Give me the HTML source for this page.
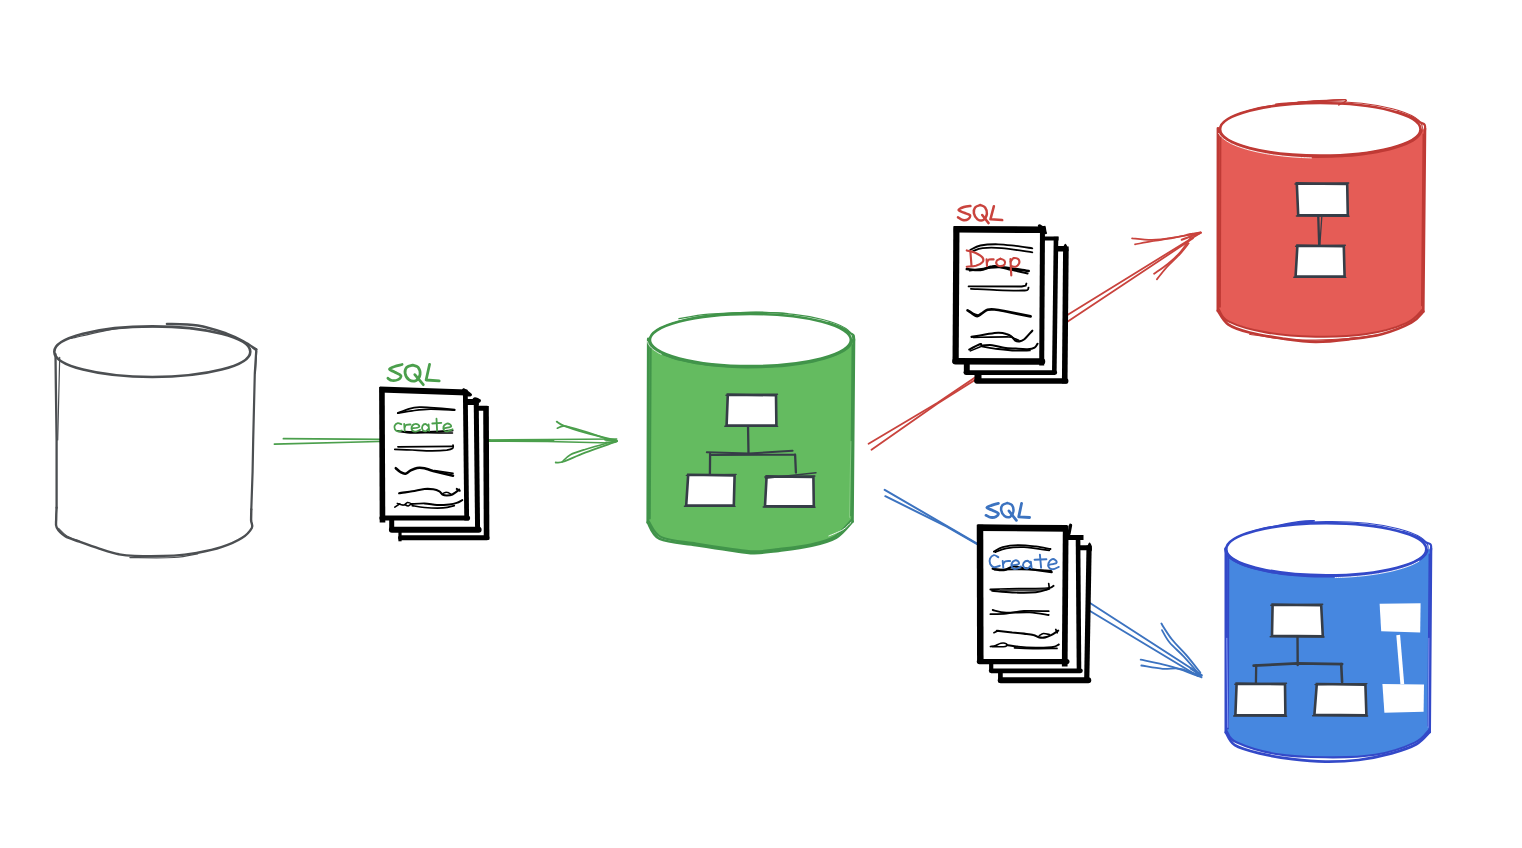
<!DOCTYPE html>
<html><head><meta charset="utf-8"><title>Schema migration diagram</title>
<style>html,body{margin:0;padding:0;background:#fff;}body{width:1522px;height:848px;overflow:hidden;font-family:"Liberation Sans",sans-serif;}svg{display:block;}</style>
</head><body>
<svg width="1522" height="848" viewBox="0 0 1522 848" fill="none" stroke-linecap="round" stroke-linejoin="round" style="filter:blur(0.35px)">
<rect width="1522" height="848" fill="#fff"/>
<g stroke="#4b9f4c">
<path d="M283.4,438.7 L379.5,439.3 L490,440.2" stroke-width="1.7"/>
<path d="M274.4,444.2 L379.5,441.5 L490,441.2" stroke-width="1.7"/>
<path d="M488.9,439.9 L547.3,439.5 L616.7,439.1" stroke-width="1.5"/>
<path d="M488.9,441.2 L547.3,441.6 L611.4,442.9 L617.2,441.2" stroke-width="1.5"/>
<path d="M488.9,440.6 L553.6,440.5" stroke-width="1.6"/>
<path d="M556.7,421.6 C558.0,422.3 559.4,423.9 564.1,425.8 C568.8,427.6 576.4,430.1 585.1,432.6 C593.9,435.0 611.4,439.2 616.7,440.5" stroke-width="1.8"/>
<path d="M557.3,428.2 C558.2,427.8 561.2,426.3 563.0,426.1 C564.9,425.8 564.6,425.9 568.3,426.8 C572.0,427.7 577.9,429.3 585.1,431.5 C592.3,433.8 607.0,439.0 611.4,440.5" stroke-width="1.6"/>
<path d="M555.7,462.5 C557.1,462.4 559.2,463.2 564.1,461.5 C569.0,459.8 576.4,455.9 585.1,452.6 C593.9,449.2 611.4,443.4 616.7,441.5" stroke-width="1.8"/>
<path d="M562.0,462.0 C563.4,460.8 566.6,456.8 570.4,454.7 C574.3,452.6 579.2,451.2 585.1,449.4 C591.1,447.6 602.6,444.6 606.1,443.6" stroke-width="1.6"/>
<path d="M605.1,439.7 L616.7,440.8 L606.1,442.5" stroke-width="2.2"/>
</g>
<g stroke="#c9433d">
<path d="M868.6,443.8 L937.6,402.7 L1067,315.3 L1200.8,232.7" stroke-width="1.8"/>
<path d="M871.5,449.7 L937.6,403.6 L1067,322 L1193,238.3" stroke-width="1.8"/>
<path d="M1132.1,238.3 C1135.4,238.6 1145.1,240.0 1152.0,239.9 C1158.8,239.8 1165.0,238.9 1173.2,237.6 C1181.3,236.4 1196.2,233.2 1200.8,232.3" stroke-width="1.8"/>
<path d="M1135.0,244.4 C1137.8,243.9 1145.6,242.3 1152.0,241.2 C1158.3,240.1 1166.3,239.2 1173.2,237.9 C1180.0,236.7 1189.7,234.4 1193.0,233.7" stroke-width="1.7"/>
<path d="M1154.1,273.7 C1156.3,272.1 1163.3,267.6 1167.5,264.2 C1171.8,260.8 1175.6,257.6 1179.5,253.2 C1183.4,248.8 1189.0,240.2 1190.9,237.6" stroke-width="1.8"/>
<path d="M1156.9,279.4 C1158.6,277.3 1163.1,271.1 1166.8,267.1 C1170.5,263.1 1175.2,259.3 1178.8,255.3 C1182.5,251.4 1187.1,245.3 1188.7,243.3" stroke-width="1.7"/>
<path d="M1181.7,239.8 L1200.8,232.7 L1187.3,234.8" stroke-width="2.0"/>
</g>
<g stroke="#3c73c0">
<path d="M884.7,489.8 L976.7,543.4 L1090,603 L1201.5,675" stroke-width="2.0"/>
<path d="M885.3,496.2 L946.7,526.6 L976.7,544 L1090,611 L1198,676" stroke-width="2.0"/>
<path d="M1161.4,623.6 C1163.1,626.3 1167.9,634.3 1172.0,639.5 C1176.1,644.7 1181.4,649.4 1186.1,654.9 C1190.9,660.4 1197.9,669.6 1200.3,672.6" stroke-width="1.9"/>
<path d="M1162.0,630.1 C1163.2,632.2 1166.0,638.1 1169.6,642.5 C1173.3,646.9 1179.3,651.8 1183.8,656.6 C1188.3,661.5 1194.6,668.9 1196.8,671.4" stroke-width="1.8"/>
<path d="M1140.7,659.6 C1144.4,660.4 1156.0,662.7 1162.6,664.3 C1169.1,665.9 1173.8,667.1 1180.2,669.3 C1186.7,671.4 1197.9,675.9 1201.5,677.3" stroke-width="1.9"/>
<path d="M1141.3,665.5 C1144.9,666.0 1156.1,668.2 1162.6,668.8 C1169.0,669.3 1174.4,667.7 1180.2,668.8 C1186.1,669.8 1195.0,674.1 1197.9,675.2" stroke-width="1.8"/>
<path d="M1190.9,668.4 L1201.5,675.5 L1193.2,673.7" stroke-width="2.4"/>
</g>
<g stroke="#4c4f52">
<ellipse cx="152.3" cy="351.7" rx="98" ry="25.3" stroke-width="2.6"/>
<path d="M71.5,338.4 C79.4,336.7 103.1,330.2 118.8,328.3 C134.6,326.3 154.1,326.7 166.1,326.7 C178.2,326.8 187.2,328.3 191.4,328.6" stroke-width="1.2"/>
<path d="M166.9,323.9 C172.1,324.1 187.8,323.9 197.7,325.5 C207.5,327.0 218.4,330.7 226.1,333.3 C233.7,336.0 238.4,338.5 243.4,341.2 C248.5,343.9 254.2,348.1 256.3,349.4" stroke-width="2.4"/>
<path d="M252.1,347.5 L256.7,351.3 L255.4,373.1" stroke-width="1.2"/>
<path d="M256.3,349.4 L254.8,373.1 L253.2,439.9 L252.6,471.5 L251.3,509.4" stroke-width="2.2"/>
<path d="M251.3,509.4 C251.3,511.2 251.1,517.3 251.1,520.4 C251.2,523.5 253.3,525.0 251.8,528.0 C250.2,530.9 246.9,534.9 241.8,538.1 C236.8,541.3 228.7,544.8 221.3,547.2 C214.0,549.7 205.6,551.3 197.7,552.7 C189.8,554.1 184.5,555.1 174.0,555.6 C163.5,556.1 143.8,556.1 134.6,555.9 C125.4,555.7 124.6,555.5 118.8,554.3 C113.1,553.1 106.5,550.9 99.9,548.8 C93.3,546.7 85.2,543.8 79.4,541.7 C73.6,539.6 69.0,538.5 65.2,536.2 C61.4,533.8 58.2,530.4 56.7,527.5 C55.2,524.6 56.3,522.1 56.2,518.8 C56.2,515.6 56.5,509.6 56.6,507.8" stroke-width="2.4"/>
<path d="M129.9,557.6 C137.2,557.6 162.7,558.1 174.0,557.5 C185.3,556.8 193.7,554.4 197.7,553.8" stroke-width="1.2"/>
<path d="M58.6,528.3 C60.0,529.6 63.3,533.8 66.8,535.9 C70.3,538.0 77.3,540.1 79.4,540.9" stroke-width="1.1"/>
<path d="M56.6,507.8 L56.6,440.0 L55.9,388.8 L55.5,354.2" stroke-width="2.3"/>
<path d="M59.7,357.3 L57.7,439.9" stroke-width="1.2"/>
</g>
<path d="M647.4,522.4 C649.7,524.9 653.3,533.7 661.4,537.2 C669.5,540.8 684.7,541.7 696.0,543.5 C707.3,545.4 719.4,547.2 729.0,548.5 C738.7,549.8 745.5,551.3 753.8,551.4 C762.1,551.6 768.9,550.3 778.6,549.1 C788.2,547.9 802.2,546.3 811.6,544.2 C820.9,542.1 827.8,540.4 834.7,536.6 C841.6,532.8 849.8,524.0 852.8,521.5 L854.3,340.0 L647.9,340.0 Z" fill="#64bb60" stroke="none"/>
<g stroke="#41944a">
<path d="M648.3,339.0 L647.8,522.4" stroke-width="2.8"/>
<path d="M650.6999999999999,344.0 L649.8,518.4" stroke-width="2.0"/>
<path d="M854.0,339.0 L852.5,521.5" stroke-width="2.6"/>
<path d="M852.3,345.0 L850.9,515.5" stroke-width="1.5"/>
<path d="M647.8,522.4 C649.8,525.1 651.7,535.1 659.7,538.9 C667.8,542.7 684.5,543.3 696.0,545.2 C707.6,547.0 719.4,548.8 729.0,550.1 C738.7,551.4 745.5,553.0 753.8,553.1 C762.1,553.2 768.9,552.0 778.6,550.8 C788.2,549.6 801.9,548.0 811.6,545.8 C821.2,543.6 829.5,541.6 836.3,537.6 C843.2,533.5 849.8,524.2 852.5,521.5" stroke-width="2.7"/>
<path d="M648.8,521.4 C650.9,524.0 653.5,533.6 661.4,537.2 C669.2,540.9 684.7,541.7 696.0,543.5 C707.3,545.4 719.4,547.2 729.0,548.5 C738.7,549.8 745.5,551.3 753.8,551.4 C762.1,551.6 768.9,550.3 778.6,549.1 C788.2,547.9 802.2,546.3 811.6,544.2 C820.9,542.1 828.0,540.7 834.7,536.6 C841.4,532.5 848.9,522.3 851.8,519.5" stroke-width="2.1"/>
<ellipse cx="750.4" cy="340.0" rx="100.5" ry="26.099999999999998" fill="#fff" stroke-width="2.6"/>
<ellipse cx="751.0" cy="339.7" rx="101.8" ry="27.299999999999997" stroke-width="1.1" transform="rotate(-0.7 750.4 340.0)"/>
<path d="M851.6,341.9 C851.2,342.5 850.6,344.4 849.6,345.6 C848.6,346.9 847.3,348.1 845.7,349.3 C844.1,350.5 842.1,351.6 839.9,352.7 C837.7,353.8 835.2,354.9 832.4,355.9 C829.7,356.9 826.6,357.9 823.3,358.8 C820.1,359.7 816.5,360.6 812.8,361.4 C809.1,362.1 805.2,362.8 801.1,363.5 C797.0,364.1 792.7,364.7 788.4,365.1 C784.0,365.6 779.5,366.0 774.9,366.3 C770.4,366.6 765.7,366.8 761.0,367.0 C756.3,367.1 751.6,367.1 746.9,367.1 C742.2,367.0 737.4,366.9 732.8,366.7 C728.2,366.5 723.5,366.2 719.1,365.8 C714.6,365.4 710.2,364.9 705.9,364.4 C701.7,363.8 697.6,363.2 693.7,362.5 C689.8,361.8 686.0,361.0 682.6,360.1 C679.1,359.3 675.7,358.4 672.7,357.4 C669.7,356.5 666.9,355.4 664.4,354.4 C661.9,353.3 659.7,352.2 657.8,351.0 C655.9,349.9 654.2,348.7 652.9,347.5 C651.6,346.3 650.6,345.0 650.0,343.8 C649.3,342.5 649.2,340.6 649.0,340.0" stroke-width="2.6"/>
<path d="M827.9,322.8 C830.3,323.6 838.3,326.2 842.1,327.9 C845.8,329.6 848.4,331.8 850.3,333.1 C852.3,334.3 853.1,334.2 853.7,335.5 C854.3,336.8 854.0,340.1 854.0,341.0" stroke-width="2.2"/>
<path d="M678.9,318.7 C683.9,317.9 696.0,315.3 708.8,314.2 C721.7,313.1 743.0,312.1 756.1,312.0 C769.3,311.9 782.4,313.3 787.7,313.6" stroke-width="1.2"/>
</g>
<g stroke="#363d47">
<path d="M748.0,425.0 L748.5,453.4" stroke-width="2.3"/>
<path d="M706.8,452.2 L748.9,453.4 L792.6,450.8" stroke-width="2.0"/>
<path d="M710.9,454.9 L795.1,454.7" stroke-width="2.0"/>
<path d="M710.1,453.9 L709.9,474.5" stroke-width="2.3"/>
<path d="M795.1,454.7 L795.9,472.5" stroke-width="2.3"/>
</g>
<path d="M727.8,394.6 L776.0,395.2 L776.4,425.6 L726.6,425.2 Z" fill="#fff" stroke="#363d47" stroke-width="2.6" stroke-linejoin="miter"/><path d="M726.0,395.2 L777.5,394.2 M724.8,426.2 L777.6,426.4" stroke="#363d47" stroke-width="1.43"/>
<path d="M688.2,474.8 L734.6,475.4 L733.8,505.6 L686.2,505.2 Z" fill="#fff" stroke="#363d47" stroke-width="2.6" stroke-linejoin="miter"/><path d="M686.4,475.4 L736.1,474.4 M684.4,506.2 L735.0,506.4" stroke="#363d47" stroke-width="1.43"/>
<path d="M766.6,476.4 L813.4,477.0 L813.8,506.4 L765.0,506.0 Z" fill="#fff" stroke="#363d47" stroke-width="2.6" stroke-linejoin="miter"/><path d="M764.8,477.0 L814.9,476.0 M763.2,507.0 L815.0,507.2" stroke="#363d47" stroke-width="1.43"/>
<path d="M765.5,478.2 L816,472.8" stroke="#363d47" stroke-width="1.4"/>
<path d="M661.2,354.3 C660.9,354.2 660.1,353.7 659.5,353.5 C659.0,353.2 658.4,352.9 657.9,352.6 C657.4,352.3 656.9,352.0 656.5,351.7 C656.0,351.4 655.5,351.1 655.1,350.8 C654.7,350.5 654.2,350.2 653.8,349.9 C653.4,349.6 653.0,349.3 652.7,349.0 C652.3,348.7 652.0,348.4 651.6,348.1 C651.3,347.8 651.0,347.5 650.7,347.2 C650.4,346.9 650.2,346.6 649.9,346.3 C649.6,345.9 649.4,345.6 649.2,345.3 C649.0,345.0 648.8,344.7 648.6,344.4 C648.4,344.1 648.3,343.7 648.1,343.4 C648.0,343.1 647.9,342.8 647.8,342.5 C647.7,342.1 647.6,341.7 647.5,341.5" stroke="#fff" stroke-width="0.9" fill="none" stroke-linecap="round" opacity="0.9"/>
<path d="M828.9,535.9 C831.2,534.9 839.3,531.9 842.9,529.7 C846.6,527.4 849.5,523.6 850.9,522.4" stroke="#fff" stroke-width="1.0" opacity="0.9"/>
<path d="M850.9,441.5 L849.5,517.4" stroke="#8fd08a" stroke-width="0.8"/>
<path d="M1217.5,310.7 C1219.4,312.5 1220.8,318.0 1228.9,321.6 C1237.0,325.2 1251.6,329.9 1266.0,332.4 C1280.5,334.9 1299.0,336.3 1315.5,336.7 C1332.1,337.0 1349.9,336.6 1365.1,334.3 C1380.2,332.1 1396.6,326.9 1406.3,323.1 C1416.1,319.3 1420.7,313.4 1423.6,311.5 L1425.3,129.3 L1217.6,129.3 Z" fill="#e55c56" stroke="none"/>
<g stroke="#bf3a35">
<path d="M1218.0,128.3 L1217.9,310.7" stroke-width="2.8"/>
<path d="M1220.3999999999999,133.3 L1219.9,306.7" stroke-width="2.0"/>
<path d="M1425.0,128.3 L1423.3,311.5" stroke-width="2.6"/>
<path d="M1423.3,134.3 L1421.6999999999998,305.5" stroke-width="1.5"/>
<path d="M1217.9,310.7 C1219.6,313.0 1222.8,320.6 1228.1,324.3 C1233.3,327.9 1240.4,330.2 1249.5,332.5 C1258.6,334.9 1271.5,336.9 1282.5,338.5 C1293.5,340.0 1304.5,341.6 1315.5,341.8 C1326.6,341.9 1337.6,340.6 1348.6,339.3 C1359.6,338.0 1371.1,337.0 1381.6,334.2 C1392.0,331.4 1404.3,326.4 1411.3,322.6 C1418.2,318.8 1421.3,313.4 1423.3,311.5" stroke-width="2.7"/>
<path d="M1218.9,309.7 C1220.6,311.7 1221.0,317.9 1228.9,321.6 C1236.7,325.4 1251.6,329.9 1266.0,332.4 C1280.5,334.9 1299.0,336.3 1315.5,336.7 C1332.1,337.0 1349.9,336.6 1365.1,334.3 C1380.2,332.1 1396.8,327.3 1406.3,323.1 C1415.9,319.0 1419.9,311.8 1422.6,309.5" stroke-width="2.1"/>
<ellipse cx="1320.3" cy="129.3" rx="100.2" ry="26.3" fill="#fff" stroke-width="2.6"/>
<ellipse cx="1320.8999999999999" cy="129.0" rx="101.5" ry="27.5" stroke-width="1.1" transform="rotate(-0.7 1320.3 129.3)"/>
<path d="M1421.2,131.2 C1420.8,131.8 1420.2,133.7 1419.2,135.0 C1418.2,136.2 1416.9,137.4 1415.3,138.6 C1413.7,139.8 1411.8,141.0 1409.6,142.1 C1407.4,143.2 1404.8,144.3 1402.1,145.3 C1399.3,146.4 1396.3,147.4 1393.0,148.3 C1389.8,149.2 1386.2,150.0 1382.5,150.8 C1378.8,151.6 1374.9,152.3 1370.8,152.9 C1366.8,153.6 1362.5,154.1 1358.2,154.6 C1353.8,155.1 1349.3,155.5 1344.8,155.8 C1340.2,156.1 1335.5,156.3 1330.9,156.5 C1326.2,156.6 1321.5,156.6 1316.8,156.6 C1312.1,156.5 1307.4,156.4 1302.7,156.2 C1298.1,156.0 1293.5,155.7 1289.1,155.3 C1284.6,154.9 1280.2,154.4 1276.0,153.8 C1271.8,153.3 1267.7,152.6 1263.8,151.9 C1259.9,151.2 1256.1,150.4 1252.7,149.6 C1249.2,148.7 1245.9,147.8 1242.9,146.8 C1239.8,145.9 1237.0,144.8 1234.6,143.8 C1232.1,142.7 1229.8,141.6 1227.9,140.4 C1226.0,139.2 1224.4,138.0 1223.1,136.8 C1221.8,135.6 1220.8,134.4 1220.2,133.1 C1219.5,131.8 1219.4,129.9 1219.2,129.3" stroke-width="2.6"/>
<path d="M1397.6,111.9 C1399.9,112.8 1408.0,115.4 1411.7,117.1 C1415.4,118.8 1417.8,121.1 1419.9,122.3 C1422.1,123.6 1423.9,123.5 1424.7,124.8 C1425.5,126.1 1425.0,129.4 1425.0,130.3" stroke-width="2.2"/>
<path d="M1275.7,104.2 C1281.5,103.8 1298.8,102.1 1310.4,101.4 C1321.9,100.7 1340.3,99.2 1345.1,99.8 C1349.8,100.4 1339.8,104.0 1338.8,104.9" stroke-width="1.5"/>
<path d="M1297.8,102.0 C1302.5,101.8 1318.3,100.9 1326.1,100.5 C1334.0,100.0 1341.9,99.7 1345.1,99.5" stroke-width="1.2"/>
</g>
<g stroke="#363d47">
<path d="M1318.2,215.0 L1319.2,245.7" stroke-width="2.3"/>
<path d="M1321.8,216.7 L1319.8,245.7" stroke-width="1.3"/>
</g>
<path d="M1296.8,183.4 L1347.2,184.0 L1347.8,215.4 L1298.2,215.0 Z" fill="#fff" stroke="#363d47" stroke-width="2.6" stroke-linejoin="miter"/><path d="M1295.0,184.0 L1348.7,183.0 M1296.4,216.0 L1349.0,216.2" stroke="#363d47" stroke-width="1.43"/>
<path d="M1297.4,245.6 L1343.8,246.2 L1344.6,276.6 L1295.6,276.2 Z" fill="#fff" stroke="#363d47" stroke-width="2.6" stroke-linejoin="miter"/><path d="M1295.6,246.2 L1345.3,245.2 M1293.8,277.2 L1345.8,277.4" stroke="#363d47" stroke-width="1.43"/>
<path d="M1311.4,157.9 C1309.7,157.8 1304.8,157.7 1301.6,157.5 C1298.4,157.4 1295.2,157.1 1292.0,156.9 C1288.9,156.6 1285.7,156.3 1282.7,156.0 C1279.6,155.7 1276.6,155.3 1273.7,154.9 C1270.8,154.5 1267.9,154.0 1265.2,153.5 C1262.4,153.0 1259.7,152.5 1257.1,151.9 C1254.6,151.4 1252.1,150.7 1249.7,150.1 C1247.3,149.5 1245.0,148.8 1242.9,148.1 C1240.7,147.4 1238.7,146.7 1236.8,146.0 C1234.9,145.2 1233.1,144.4 1231.4,143.7 C1229.8,142.9 1228.3,142.0 1226.9,141.2 C1225.6,140.4 1224.4,139.5 1223.3,138.6 C1222.2,137.8 1221.3,136.9 1220.5,136.0 C1219.8,135.1 1219.0,133.7 1218.7,133.3" stroke="#fff" stroke-width="1.0" fill="none" stroke-linecap="round" opacity="0.9"/>
<path d="M1249.5,334.2 C1255.0,335.0 1271.5,338.1 1282.5,339.1 C1293.5,340.1 1304.5,340.2 1315.5,340.1 C1326.6,340.0 1337.6,339.5 1348.6,338.5 C1359.6,337.5 1376.1,334.9 1381.6,334.2" stroke="#bf3a35" stroke-width="1.1"/>
<path d="M1225.5,732.4 C1227.3,734.0 1228.0,738.7 1236.4,742.3 C1244.8,745.9 1261.2,751.5 1276.0,754.0 C1290.9,756.5 1309.0,757.2 1325.5,757.3 C1342.1,757.5 1360.2,757.3 1375.1,754.8 C1389.9,752.4 1405.5,746.4 1414.7,742.6 C1423.8,738.8 1427.4,733.8 1430.0,732.0 L1431.3,549.2 L1225.5,549.2 Z" fill="#4687e0" stroke="none"/>
<g stroke="#3349c8">
<path d="M1225.9,548.2 L1225.9,732.4" stroke-width="2.8"/>
<path d="M1228.3,553.2 L1227.9,728.4" stroke-width="2.0"/>
<path d="M1431.0,548.2 L1429.7,732.0" stroke-width="2.6"/>
<path d="M1429.3,554.2 L1428.1,726.0" stroke-width="1.5"/>
<path d="M1225.9,732.4 C1227.4,734.5 1229.2,741.6 1234.8,745.1 C1240.4,748.6 1249.9,751.0 1259.5,753.4 C1269.2,755.7 1281.5,757.8 1292.5,759.1 C1303.5,760.5 1314.5,761.5 1325.5,761.6 C1336.6,761.7 1347.6,761.3 1358.6,760.0 C1369.6,758.6 1381.9,756.0 1391.6,753.4 C1401.2,750.7 1410.0,747.8 1416.3,744.3 C1422.7,740.7 1427.5,734.0 1429.7,732.0" stroke-width="2.7"/>
<path d="M1226.9,731.4 C1228.5,733.2 1228.2,738.5 1236.4,742.3 C1244.6,746.1 1261.2,751.5 1276.0,754.0 C1290.9,756.5 1309.0,757.2 1325.5,757.3 C1342.1,757.5 1360.2,757.3 1375.1,754.8 C1389.9,752.4 1405.7,746.8 1414.7,742.6 C1423.7,738.5 1426.6,732.1 1429.0,730.0" stroke-width="2.1"/>
<ellipse cx="1326.3" cy="549.2" rx="100.0" ry="26.099999999999998" fill="#fff" stroke-width="2.6"/>
<ellipse cx="1326.8999999999999" cy="548.9000000000001" rx="101.3" ry="27.299999999999997" stroke-width="1.1" transform="rotate(-0.7 1326.3 549.2)"/>
<path d="M1427.0,551.1 C1426.6,551.7 1426.0,553.6 1425.0,554.8 C1424.0,556.1 1422.7,557.3 1421.1,558.5 C1419.5,559.7 1417.6,560.8 1415.4,561.9 C1413.2,563.0 1410.7,564.1 1407.9,565.1 C1405.2,566.1 1402.1,567.1 1398.9,568.0 C1395.6,568.9 1392.1,569.8 1388.4,570.6 C1384.7,571.3 1380.8,572.0 1376.8,572.7 C1372.7,573.3 1368.4,573.9 1364.1,574.3 C1359.8,574.8 1355.3,575.2 1350.7,575.5 C1346.2,575.8 1341.5,576.0 1336.8,576.2 C1332.2,576.3 1327.5,576.3 1322.8,576.3 C1318.1,576.2 1313.4,576.1 1308.8,575.9 C1304.2,575.7 1299.6,575.4 1295.1,575.0 C1290.7,574.6 1286.3,574.1 1282.1,573.6 C1277.9,573.0 1273.8,572.4 1269.9,571.7 C1266.0,571.0 1262.3,570.2 1258.8,569.3 C1255.3,568.5 1252.0,567.6 1249.0,566.6 C1246.0,565.7 1243.2,564.6 1240.7,563.6 C1238.3,562.5 1236.0,561.4 1234.1,560.2 C1232.2,559.1 1230.6,557.9 1229.3,556.7 C1228.0,555.5 1227.0,554.2 1226.4,553.0 C1225.7,551.7 1225.6,549.8 1225.4,549.2" stroke-width="2.6"/>
<path d="M1403.4,532.0 C1405.8,532.8 1413.8,535.4 1417.5,537.1 C1421.2,538.8 1423.6,541.0 1425.8,542.3 C1428.0,543.5 1429.8,543.4 1430.7,544.7 C1431.6,546.0 1431.0,549.3 1431.0,550.2" stroke-width="2.2"/>
<path d="M1281.7,524.9 C1284.5,524.3 1292.9,522.4 1298.3,521.7 C1303.7,521.0 1313.0,520.7 1314.1,520.8 C1315.1,520.9 1309.6,521.5 1304.6,522.3 C1299.6,523.2 1287.5,525.1 1284.1,525.7" stroke-width="1.6"/>
</g>
<g stroke="#363d47">
<path d="M1297.5,635.0 L1297.7,665.0" stroke-width="2.4"/>
<path d="M1253.7,665.7 L1297.5,663.4 L1342.1,664.1" stroke-width="2.8"/>
<path d="M1256.2,665.5 L1255.9,684.5" stroke-width="2.3"/>
<path d="M1341.2,664.1 L1342.1,682.0" stroke-width="2.6"/>
</g>
<path d="M1272.6,604.6 L1321.2,605.2 L1322.8,636.2 L1272.0,635.8 Z" fill="#fff" stroke="#363d47" stroke-width="2.6" stroke-linejoin="miter"/><path d="M1270.8,605.2 L1322.7,604.2 M1270.2,636.8 L1324.0,637.0" stroke="#363d47" stroke-width="1.43"/>
<path d="M1236.6,683.6 L1285.0,684.2 L1285.4,715.4 L1235.4,715.0 Z" fill="#fff" stroke="#363d47" stroke-width="2.6" stroke-linejoin="miter"/><path d="M1234.8,684.2 L1286.5,683.2 M1233.6,716.0 L1286.6,716.2" stroke="#363d47" stroke-width="1.43"/>
<path d="M1316.8,684.0 L1365.4,684.6 L1366.4,715.2 L1314.4,714.8 Z" fill="#fff" stroke="#363d47" stroke-width="2.6" stroke-linejoin="miter"/><path d="M1315.0,684.6 L1366.9,683.6 M1312.6,715.8 L1367.6,716.0" stroke="#363d47" stroke-width="1.43"/>
<path d="M1398.2,635.0 L1402.3,684.2" stroke="#fff" stroke-width="3.8" stroke-linecap="butt"/>
<path d="M1379.6,603.8 L1420.6,603.2 L1420.2,632.6 L1381.2,631.2 Z" fill="#fff"/>
<path d="M1382.4,684.0 L1424.0,684.4 L1423.6,711.8 L1384.4,712.8 Z" fill="#fff"/>
<path d="M1419.0,561.2 C1418.4,561.6 1416.8,562.5 1415.5,563.1 C1414.3,563.8 1412.9,564.4 1411.5,565.0 C1410.1,565.6 1408.6,566.1 1407.1,566.7 C1405.5,567.3 1403.9,567.8 1402.2,568.3 C1400.4,568.8 1398.7,569.4 1396.8,569.8 C1395.0,570.3 1393.0,570.8 1391.1,571.3 C1389.1,571.7 1387.1,572.1 1385.0,572.5 C1382.9,573.0 1380.7,573.3 1378.6,573.7 C1376.4,574.1 1374.1,574.4 1371.8,574.7 C1369.5,575.0 1367.2,575.3 1364.9,575.6 C1362.5,575.9 1360.1,576.1 1357.7,576.3 C1355.2,576.5 1352.8,576.7 1350.3,576.9 C1347.8,577.1 1345.3,577.2 1342.8,577.3 C1340.3,577.4 1336.5,577.5 1335.2,577.6" stroke="#fff" stroke-width="1.0" fill="none" stroke-linecap="round" opacity="0.9"/>
<path d="M1226.8,638.3 L1227.8,727.4" stroke="#9fb4ff" stroke-width="0.8"/>
<path d="M1428.9,638.3 L1428.2,727.4" stroke="#9fb4ff" stroke-width="0.7"/>
<path d="M400.0,408.2 L486.0,408.2 L486.6,537.8 L400.0,537.8 Z" fill="#fff" stroke="none"/><path d="M399.0,408.2 L487.5,408.2" stroke="#000" stroke-width="5" stroke-linecap="butt"/><path d="M486.0,406.0 L486.6,539.8" stroke="#000" stroke-width="5.6" stroke-linecap="butt"/><path d="M486.9,537.8 L400.6,537.8" stroke="#000" stroke-width="5" stroke-linecap="round"/><path d="M400.0,541.3 L400.0,406.1" stroke="#000" stroke-width="3.2" stroke-linecap="butt"/>
<path d="M391.7,402.0 L476.2,402.0 L477.6,529.8 L391.7,529.8 Z" fill="#fff" stroke="none"/><path d="M389.8,402.0 L478.7,402.0" stroke="#000" stroke-width="6" stroke-linecap="butt"/><path d="M476.2,399.3 L477.6,531.3" stroke="#000" stroke-width="5" stroke-linecap="butt"/><path d="M478.6,529.8 L391.9,529.8" stroke="#000" stroke-width="6" stroke-linecap="round"/><path d="M391.7,529.8 L391.7,399.4" stroke="#000" stroke-width="5" stroke-linecap="butt"/>
<path d="M472.6,399.4 C472.4,398.5 473.7,397.2 475.0,397.2 C476.3,397.2 479.8,398.7 480.6,399.6 C481.4,400.5 480.8,401.9 480.0,402.4 C479.2,402.9 477.2,403.0 476.0,402.5 C474.8,402.0 472.8,400.3 472.6,399.4 Z" fill="#000" stroke="none"/>
<path d="M381.9,389.6 L465.3,392.6 L466.7,518.0 L382.5,518.0 Z" fill="#fff" stroke="none"/><path d="M379.7,389.6 L466.8,392.6" stroke="#000" stroke-width="6.0" stroke-linecap="butt"/><path d="M465.3,389.9 L466.7,520.5" stroke="#000" stroke-width="4.8" stroke-linecap="butt"/><path d="M467.6,518.0 L381.9,518.0" stroke="#000" stroke-width="5.0" stroke-linecap="round"/><path d="M382.5,522.5 L381.9,387.0" stroke="#000" stroke-width="5.6" stroke-linecap="butt"/>
<path d="M462.0,390.0 C462.1,388.7 463.3,388.2 464.4,388.4 C465.5,388.6 467.3,390.3 468.5,391.2 C469.7,392.1 471.4,393.2 471.8,394.0 C472.2,394.8 472.1,395.9 470.8,396.2 C469.5,396.5 465.5,397.0 464.0,396.0 C462.5,395.0 461.9,391.3 462.0,390.0 Z" fill="#000" stroke="none"/>
<path d="M978.0,248.8 L1065.9,248.8 L1064.7,381.0 L978.0,381.0 Z" fill="#fff" stroke="none"/><path d="M975.1,248.8 L1065.9,248.8" stroke="#000" stroke-width="5.4" stroke-linecap="butt"/><path d="M1065.9,246.4 L1064.7,383.5" stroke="#000" stroke-width="5.6" stroke-linecap="butt"/><path d="M1065.8,381.0 L976.9,381.0" stroke="#000" stroke-width="5.3" stroke-linecap="round"/><path d="M978.0,382.0 L978.0,246.5" stroke="#000" stroke-width="7" stroke-linecap="butt"/>
<path d="M1063.4,247.4 C1063.3,246.2 1064.6,244.0 1065.2,243.8 C1065.8,243.6 1066.6,245.1 1067.2,246.2 C1067.8,247.3 1068.8,249.8 1068.6,250.6 C1068.4,251.4 1066.9,251.5 1066.0,251.0 C1065.1,250.5 1063.5,248.6 1063.4,247.4 Z" fill="#000" stroke="none"/>
<path d="M966.8,238.5 L1056.0,238.5 L1054.3,372.6 L966.8,372.6 Z" fill="#fff" stroke="none"/><path d="M964.4,238.5 L1058.6,238.5" stroke="#000" stroke-width="4.2" stroke-linecap="butt"/><path d="M1056.0,236.7 L1054.3,373.6" stroke="#000" stroke-width="4.6" stroke-linecap="butt"/><path d="M1054.7,372.6 L965.9,372.6" stroke="#000" stroke-width="4.8" stroke-linecap="round"/><path d="M966.8,372.6 L966.8,236.8" stroke="#000" stroke-width="5.9" stroke-linecap="butt"/>
<path d="M956.4,229.2 L1042.5,229.8 L1041.7,361.6 L955.6,361.2 Z" fill="#fff" stroke="none"/><path d="M953.9,229.2 L1044.5,229.8" stroke="#000" stroke-width="6.6" stroke-linecap="butt"/><path d="M1042.5,226.8 L1041.7,365.6" stroke="#000" stroke-width="5.0" stroke-linecap="butt"/><path d="M1042.0,361.6 L955.5,361.2" stroke="#000" stroke-width="6.5" stroke-linecap="round"/><path d="M955.6,362.7 L956.4,226.3" stroke="#000" stroke-width="6.2" stroke-linecap="butt"/>
<path d="M1038.0,226.4 C1037.3,224.8 1038.8,224.3 1039.6,224.2 C1040.4,224.1 1042.0,225.7 1043.0,226.0 C1044.0,226.3 1044.8,225.2 1045.4,226.0 C1046.0,226.8 1046.1,229.7 1046.4,231.0 C1046.7,232.3 1047.4,233.2 1047.0,233.6 C1046.6,234.0 1045.5,234.8 1044.0,233.6 C1042.5,232.4 1038.7,228.0 1038.0,226.4 Z" fill="#000" stroke="none"/>
<path d="M1000.4,547.8 L1089.1,547.8 L1086.7,680.2 L1000.4,680.2 Z" fill="#fff" stroke="none"/><path d="M998.6,547.8 L1089.1,547.8" stroke="#000" stroke-width="5" stroke-linecap="butt"/><path d="M1089.1,545.6 L1086.7,682.2" stroke="#000" stroke-width="5.2" stroke-linecap="butt"/><path d="M1088.3,680.2 L1000.7,680.2" stroke="#000" stroke-width="5.9" stroke-linecap="round"/><path d="M1000.4,682.2 L1000.4,545.7" stroke="#000" stroke-width="4.7" stroke-linecap="butt"/>
<path d="M1087.4,546.6 C1087.5,545.2 1088.7,542.6 1089.4,542.4 C1090.1,542.2 1091.0,543.8 1091.4,545.2 C1091.8,546.6 1092.2,549.6 1091.8,550.6 C1091.4,551.6 1089.7,551.7 1089.0,551.0 C1088.3,550.3 1087.3,548.0 1087.4,546.6 Z" fill="#000" stroke="none"/>
<path d="M991.2,537.4 L1078.0,537.4 L1079.0,670.8 L991.2,670.8 Z" fill="#fff" stroke="none"/><path d="M989.7,537.4 L1083.5,537.4" stroke="#000" stroke-width="5.0" stroke-linecap="butt"/><path d="M1078.0,535.2 L1079.0,671.8" stroke="#000" stroke-width="4.6" stroke-linecap="butt"/><path d="M1080.4,670.8 L991.2,670.8" stroke="#000" stroke-width="4.8" stroke-linecap="round"/><path d="M991.2,670.8 L991.2,535.3" stroke="#000" stroke-width="4.2" stroke-linecap="butt"/>
<path d="M980.0,527.6 L1065.7,528.4 L1064.7,661.6 L980.3,661.6 Z" fill="#fff" stroke="none"/><path d="M977.4,527.6 L1067.2,528.4" stroke="#000" stroke-width="6.6" stroke-linecap="butt"/><path d="M1065.7,525.4 L1064.7,666.6" stroke="#000" stroke-width="5.7" stroke-linecap="butt"/><path d="M1066.8,661.6 L979.5,661.6" stroke="#000" stroke-width="5.4" stroke-linecap="round"/><path d="M980.3,662.6 L980.0,524.7" stroke="#000" stroke-width="6.5" stroke-linecap="butt"/>
<path d="M1070.6,525.2 L1069.0,533.8" stroke="#000" stroke-width="3.2" stroke-linecap="round"/>
<g stroke="#000">
<path d="M397.8,413.1 C399.7,412.4 405.3,409.9 409.0,408.9 C412.6,407.9 416.0,407.4 419.6,407.2 C423.1,407.0 424.3,407.2 430.2,407.6 C436.0,408.0 450.5,409.3 454.6,409.6" stroke-width="1.82"/>
<path d="M397.8,413.1 C400.2,412.8 406.7,411.5 412.1,410.8 C417.5,410.1 423.1,409.2 430.2,409.1 C437.2,409.0 450.5,410.0 454.6,410.2" stroke-width="1.68"/>
<path d="M397.8,431.0 C400.2,431.3 407.1,432.6 412.1,432.8 C417.2,432.9 421.3,432.4 428.1,432.0 C434.8,431.7 448.4,430.8 452.5,430.5" stroke-width="2.1"/>
<path d="M404.7,431.6 C408.6,431.8 420.1,432.5 428.1,432.8 C436.0,433.0 448.4,432.9 452.5,433.0" stroke-width="1.54"/>
<path d="M394.8,449.3 C397.7,449.4 406.0,449.8 412.2,450.0 C418.3,450.3 426.2,450.9 432.0,450.9 C437.7,450.9 443.4,450.6 446.8,450.2 C450.3,449.7 451.7,449.0 452.8,448.2 C453.8,447.3 453.0,445.5 453.0,445.0" stroke-width="1.75"/>
<path d="M397.9,446.8 L452.4,446.4" stroke-width="1.68"/>
<path d="M395.8,468.2 C396.6,468.9 398.8,471.0 400.4,472.0 C402.0,472.9 403.7,473.9 405.3,473.7 C407.0,473.5 408.3,471.7 410.3,470.7 C412.3,469.7 414.7,468.3 417.1,467.9 C419.5,467.5 421.9,467.7 424.5,468.2 C427.2,468.8 428.5,469.7 433.2,471.0 C438.0,472.2 449.7,474.9 453.0,475.7" stroke-width="2.52"/>
<path d="M434.4,470.5 L453.0,473.4" stroke-width="1.68"/>
<path d="M399.1,493.3 C401.3,492.9 407.9,492.0 412.2,491.3 C416.4,490.6 421.0,489.4 424.5,489.0 C428.0,488.7 430.7,488.9 433.2,489.3 C435.7,489.7 437.8,490.5 439.4,491.4 C440.9,492.3 441.3,493.8 442.5,494.5 C443.7,495.2 445.2,495.5 446.8,495.5 C448.5,495.5 450.3,495.5 452.4,494.5 C454.5,493.5 458.1,490.4 459.2,489.5" stroke-width="2.1"/>
<path d="M442.9,493.5 C443.5,493.3 445.3,492.2 446.6,492.3 C447.9,492.3 450.1,493.7 450.8,494.0" stroke-width="1.4"/>
<path d="M456.7,488.9 L459.8,490.8" stroke-width="1.96"/>
<path d="M394.8,507.1 L399.8,503.9" stroke-width="1.68"/>
<path d="M397.3,503.4 C398.3,503.7 401.8,505.3 403.5,505.1 C405.2,505.0 406.2,502.8 407.4,502.5 C408.7,502.3 410.8,503.2 410.9,503.8 C411.0,504.3 409.2,505.7 408.2,505.9 C407.2,506.0 405.3,504.9 404.7,504.6" stroke-width="1.54"/>
<path d="M410.9,504.1 C413.2,504.0 420.2,503.3 424.5,503.4 C428.9,503.5 432.8,504.7 436.9,504.9 C441.0,505.1 446.0,504.7 449.3,504.4 C452.6,504.1 454.6,503.6 456.7,502.9 C458.9,502.2 461.4,500.5 462.3,500.1" stroke-width="1.96"/>
<path d="M412.2,505.6 C414.2,505.9 419.4,507.1 424.5,507.5 C429.7,507.9 438.2,508.2 443.1,507.9 C448.1,507.6 452.4,506.0 454.3,505.6" stroke-width="1.68"/>
</g>
<g stroke="#4b9f4c">
<path d="M402.1,364.5 C400.8,364.9 396.7,365.7 394.6,366.5 C392.5,367.2 389.4,368.3 389.4,369.2 C389.4,370.1 392.7,370.9 394.6,372.0 C396.5,373.0 400.3,374.3 400.9,375.6 C401.5,376.9 399.6,378.8 398.1,379.6 C396.6,380.4 393.7,380.7 392.0,380.5 C390.3,380.3 388.6,378.7 387.9,378.3" stroke-width="2.76"/>
<path d="M412.7,365.1 C411.7,365.4 408.1,365.8 406.8,367.2 C405.6,368.6 404.7,371.1 405.1,373.2 C405.5,375.4 407.3,378.7 409.2,379.9 C411.0,381.1 414.3,381.4 416.2,380.5 C418.0,379.5 419.8,376.5 420.1,374.3 C420.4,372.1 419.2,368.7 418.0,367.2 C416.7,365.7 413.5,365.4 412.7,365.1" stroke-width="2.75"/>
<path d="M414.8,374.6 L423.3,384.7" stroke-width="2.76"/>
<path d="M429.6,364.3 L426.1,380.0 L439.2,380.9" stroke-width="2.76"/>
<path d="M401.3,424.2 C400.7,424.0 398.9,422.9 397.8,423.1 C396.7,423.3 395.2,424.5 394.7,425.6 C394.3,426.6 394.4,428.3 394.9,429.3 C395.5,430.2 396.7,431.2 397.8,431.4 C398.9,431.6 401.1,430.7 401.7,430.5" stroke-width="1.8"/>
<path d="M404.2,424.0 L404.7,430.9" stroke-width="1.8"/>
<path d="M404.7,427.1 C405.0,426.8 405.3,425.3 406.3,424.8 C407.3,424.4 409.8,424.5 410.5,424.5" stroke-width="1.8"/>
<path d="M412.1,428.4 C413.3,428.2 418.1,427.8 419.0,427.1 C420.0,426.5 418.8,425.0 418.0,424.5 C417.2,424.0 415.3,423.7 414.3,424.2 C413.2,424.6 411.9,426.1 411.6,427.1 C411.3,428.2 411.6,429.8 412.3,430.5 C413.1,431.3 414.6,431.7 415.8,431.6 C417.1,431.5 419.4,430.1 420.1,429.8" stroke-width="1.8"/>
<path d="M428.1,425.9 C427.6,425.6 426.3,424.0 425.4,424.0 C424.5,424.0 423.0,424.9 422.5,425.9 C422.1,426.8 422.0,428.9 422.5,429.8 C423.1,430.7 424.9,431.4 425.9,431.2 C426.9,431.0 428.1,429.1 428.6,428.7" stroke-width="1.8"/>
<path d="M428.6,424.5 L429.1,430.9" stroke-width="1.8"/>
<path d="M436.5,418.7 L437.1,430.9" stroke-width="1.8"/>
<path d="M432.3,423.5 L441.3,422.9" stroke-width="1.8"/>
<path d="M444.0,428.2 C445.1,428.0 449.9,427.4 450.9,426.7 C451.8,426.1 450.6,424.7 449.8,424.2 C449.0,423.7 447.3,423.3 446.3,423.8 C445.3,424.2 443.9,425.5 443.5,426.6 C443.2,427.7 443.5,429.5 444.2,430.3 C444.9,431.1 446.3,431.6 447.7,431.4 C449.1,431.2 451.7,429.6 452.5,429.3" stroke-width="1.8"/>
</g>
<g stroke="#000">
<path d="M970.4,249.8 C972.0,249.1 975.8,246.4 980.4,245.5 C985.0,244.6 992.2,244.2 998.1,244.3 C1004.0,244.4 1010.1,245.3 1015.8,245.9 C1021.5,246.6 1029.5,247.9 1032.3,248.3" stroke-width="1.82"/>
<path d="M972.7,251.3 C974.4,250.7 977.9,248.6 982.7,248.1 C987.6,247.5 993.4,247.4 1001.6,248.1 C1009.9,248.8 1027.2,251.6 1032.3,252.3" stroke-width="1.82"/>
<path d="M966.8,269.1 C969.1,269.2 976.2,270.4 980.4,270.0 C984.6,269.6 988.2,266.9 992.2,266.5 C996.1,266.0 997.9,266.6 1004.0,267.4 C1010.1,268.2 1024.6,270.5 1028.7,271.1" stroke-width="2.52"/>
<path d="M969.8,270.6 C972.5,270.2 981.4,268.9 986.3,268.4 C991.2,267.8 995.1,266.9 999.3,267.2 C1003.4,267.4 1006.3,268.7 1011.0,269.8 C1015.8,270.8 1024.8,272.9 1027.6,273.5" stroke-width="1.96"/>
<path d="M968.6,286.4 L1021.7,286.5 L1025.7,285.6 L1026.4,283.5" stroke-width="1.82"/>
<path d="M970.9,288.8 C975.3,289.0 988.2,289.8 996.9,290.1 C1005.5,290.4 1017.7,290.6 1022.8,290.5 C1028.0,290.5 1026.6,290.2 1027.6,289.7 C1028.5,289.2 1028.3,287.9 1028.5,287.6" stroke-width="1.82"/>
<path d="M967.6,310.3 C968.4,310.8 970.8,312.6 972.4,313.6 C973.9,314.6 975.5,316.2 977.1,316.2 C978.7,316.1 980.1,314.4 981.8,313.4 C983.5,312.3 985.3,310.5 987.5,309.8 C989.6,309.2 991.8,309.3 994.5,309.5 C997.3,309.7 998.0,309.8 1004.0,311.0 C1010.0,312.2 1026.2,315.5 1030.6,316.4" stroke-width="2.66"/>
<path d="M972.1,313.1 L979.2,315.4" stroke-width="1.4"/>
<path d="M971.5,336.9 C974.0,336.5 981.9,335.1 986.3,334.3 C990.7,333.6 994.7,332.8 998.1,332.7 C1001.4,332.6 1004.1,333.2 1006.3,333.9 C1008.6,334.5 1010.2,335.5 1011.6,336.6 C1013.1,337.7 1013.9,339.7 1015.2,340.5 C1016.5,341.3 1017.8,341.6 1019.3,341.4 C1020.8,341.2 1022.1,341.1 1024.3,339.3 C1026.4,337.5 1030.9,332.1 1032.3,330.7" stroke-width="2.1"/>
<path d="M973.3,337.5 C979.2,337.4 1001.8,336.8 1008.7,336.9 C1015.6,337.1 1012.9,338.0 1014.6,338.6 C1016.3,339.1 1018.0,340.0 1018.7,340.2" stroke-width="1.54"/>
<path d="M969.2,349.6 C971.0,348.6 978.3,344.7 980.4,344.0 C982.4,343.3 979.6,345.2 981.6,345.4 C983.5,345.6 988.4,344.8 992.2,345.2 C995.9,345.6 1000.0,347.2 1004.0,347.8 C1007.9,348.4 1011.8,348.4 1015.8,348.6 C1019.7,348.9 1024.4,349.4 1027.6,349.2 C1030.7,349.0 1033.0,348.5 1034.6,347.6 C1036.3,346.6 1037.1,344.3 1037.6,343.7" stroke-width="1.96"/>
<path d="M970.4,350.9 L980.4,346.8" stroke-width="1.54"/>
<path d="M981.6,346.4 C984.3,346.8 992.4,348.3 998.1,349.0 C1003.8,349.7 1010.5,350.4 1015.8,350.6 C1021.1,350.9 1027.6,350.4 1029.9,350.4" stroke-width="1.82"/>
</g>
<g stroke="#c9433d">
<path d="M970.4,206.0 C969.3,206.1 965.8,206.3 963.9,207.0 C961.9,207.7 958.6,209.2 958.6,210.1 C958.6,211.0 962.0,211.8 963.9,212.7 C965.8,213.6 969.3,214.2 970.0,215.3 C970.7,216.4 969.2,218.4 968.0,219.2 C966.8,220.0 964.4,220.3 962.7,220.0 C961.0,219.7 958.8,217.8 958.0,217.4" stroke-width="2.52"/>
<path d="M980.4,205.0 C979.5,205.4 976.2,206.0 975.1,207.4 C974.0,208.8 973.5,211.3 973.9,213.3 C974.3,215.2 975.9,218.1 977.4,219.2 C979.0,220.3 981.8,220.9 983.3,220.0 C984.9,219.1 986.6,216.0 986.9,213.9 C987.2,211.8 986.2,208.9 985.1,207.4 C984.0,205.9 981.2,205.4 980.4,205.0" stroke-width="2.5"/>
<path d="M982.2,215.0 L988.6,223.1" stroke-width="2.52"/>
<path d="M993.9,206.2 L990.4,219.3 L1002.2,220.1" stroke-width="2.52"/>
<path d="M970.4,251.6 L971.5,266.0" stroke-width="2.16"/>
<path d="M966.8,250.4 C968.3,250.9 973.0,251.8 975.7,253.0 C978.3,254.2 981.4,256.0 982.5,257.5 C983.6,259.0 983.6,260.8 982.5,262.2 C981.4,263.6 978.5,265.0 975.9,265.8 C973.3,266.5 968.3,266.5 966.8,266.7" stroke-width="2.16"/>
<path d="M986.6,259.3 L987.0,266.0" stroke-width="2.16"/>
<path d="M987.0,262.5 C987.3,262.0 988.0,260.1 989.1,259.6 C990.2,259.1 992.8,259.4 993.6,259.4" stroke-width="2.16"/>
<path d="M1000.4,258.7 C999.8,259.0 997.2,259.8 996.7,260.8 C996.1,261.8 996.2,263.7 996.9,264.6 C997.6,265.5 999.4,266.3 1000.7,266.2 C1001.9,266.2 1003.9,265.3 1004.6,264.3 C1005.2,263.4 1005.0,261.4 1004.3,260.5 C1003.6,259.5 1001.1,259.0 1000.4,258.7" stroke-width="2.16"/>
<path d="M1010.5,259.0 C1010.5,260.4 1010.7,264.2 1010.8,266.9 C1010.9,269.7 1011.2,274.0 1011.3,275.4" stroke-width="2.16"/>
<path d="M1010.7,261.6 C1011.2,261.0 1012.4,258.5 1013.6,258.1 C1014.9,257.7 1017.5,258.4 1018.4,259.3 C1019.3,260.2 1019.5,262.2 1019.1,263.4 C1018.6,264.6 1017.1,266.3 1015.8,266.7 C1014.4,267.1 1011.8,266.1 1011.0,266.0" stroke-width="2.16"/>
</g>
<g stroke="#000">
<path d="M993.9,551.6 C995.4,550.9 998.7,548.2 1002.7,547.1 C1006.8,546.0 1012.6,545.2 1018.1,545.1 C1023.6,545.0 1030.4,545.8 1035.8,546.4 C1041.2,547.1 1048.0,548.6 1050.5,549.0" stroke-width="1.82"/>
<path d="M995.4,552.1 C997.2,551.5 1001.5,549.1 1006.3,548.3 C1011.0,547.5 1016.8,546.9 1024.0,547.2 C1031.1,547.6 1045.1,549.9 1049.3,550.4" stroke-width="1.82"/>
<path d="M992.7,568.7 C994.6,569.0 1000.5,570.6 1003.9,570.2 C1007.4,569.9 1010.0,566.8 1013.4,566.5 C1016.7,566.1 1017.6,567.2 1024.0,568.1 C1030.4,569.1 1047.1,571.6 1051.7,572.2" stroke-width="2.24"/>
<path d="M994.5,569.7 C999.0,569.6 1012.2,569.4 1021.6,569.5 C1031.0,569.7 1046.2,570.5 1051.1,570.7" stroke-width="1.68"/>
<path d="M990.4,589.4 C995.0,589.3 1008.5,589.0 1018.1,588.8 C1027.6,588.6 1041.7,588.7 1047.6,588.2 C1053.5,587.7 1052.5,586.2 1053.5,585.8" stroke-width="1.96"/>
<path d="M1048.7,583.5 L1049.3,588.2" stroke-width="1.68"/>
<path d="M1000.4,590.1 C1004.3,590.1 1016.3,590.4 1024.0,590.3 C1031.6,590.2 1042.6,589.5 1046.4,589.4" stroke-width="1.96" stroke="#444"/>
<path d="M992.1,590.8 C995.5,591.0 1004.9,592.2 1012.2,592.4 C1019.4,592.7 1029.6,592.8 1035.8,592.2 C1042.0,591.6 1047.1,589.4 1049.3,588.9" stroke-width="1.96"/>
<path d="M990.4,614.2 C993.0,614.1 1000.7,614.1 1006.3,613.6 C1011.9,613.1 1016.9,611.4 1024.0,611.0 C1031.0,610.6 1044.6,611.2 1048.7,611.2" stroke-width="1.82"/>
<path d="M992.7,610.0 C995.0,610.5 1000.1,612.3 1006.3,612.6 C1012.5,613.0 1022.8,612.0 1029.9,612.4 C1036.9,612.8 1045.6,614.6 1048.7,615.0" stroke-width="1.82"/>
<path d="M993.9,632.7 L998.0,630.7" stroke-width="1.68"/>
<path d="M996.8,630.7 C999.4,631.0 1007.7,632.0 1012.2,632.5 C1016.7,632.9 1020.4,633.2 1024.0,633.6 C1027.5,634.1 1030.8,634.4 1033.4,635.1 C1036.0,635.7 1037.3,637.0 1039.3,637.4 C1041.3,637.8 1043.2,637.8 1045.2,637.4 C1047.2,637.0 1048.9,636.2 1051.1,635.1 C1053.3,633.9 1057.0,631.4 1058.2,630.7" stroke-width="2.1"/>
<path d="M1039.3,635.5 C1040.0,635.2 1041.7,633.8 1043.4,633.6 C1045.2,633.5 1048.6,634.4 1049.7,634.6" stroke-width="1.54"/>
<path d="M1055.8,629.5 L1057.2,632.7" stroke-width="1.82"/>
<path d="M990.4,646.6 C991.2,646.4 993.9,646.0 995.7,645.4 C997.4,644.9 999.2,643.6 1001.0,643.3 C1002.7,643.0 1005.4,643.3 1006.3,643.8 C1007.2,644.2 1007.0,645.4 1006.5,645.9 C1006.0,646.4 1005.7,646.6 1003.3,646.7 C1000.9,646.9 994.0,646.8 992.1,646.8" stroke-width="1.54"/>
<path d="M1006.9,645.0 C1008.7,645.2 1013.3,646.1 1018.1,646.6 C1022.9,647.1 1030.8,647.6 1035.8,647.8 C1040.7,647.9 1044.4,647.8 1047.6,647.6 C1050.7,647.4 1052.8,647.1 1054.6,646.6 C1056.5,646.1 1058.1,644.8 1058.8,644.5" stroke-width="1.96"/>
<path d="M1014.5,647.9 C1018.1,648.0 1028.7,648.5 1035.8,648.6 C1042.8,648.7 1053.5,648.4 1057.0,648.4" stroke-width="1.68"/>
</g>
<g stroke="#3c73c0">
<path d="M998.4,503.3 C997.2,503.6 993.5,504.6 991.5,505.4 C989.6,506.1 986.7,506.9 986.8,507.7 C987.0,508.6 990.5,509.4 992.4,510.3 C994.3,511.3 997.7,512.3 998.3,513.4 C998.8,514.5 997.2,516.0 995.9,516.7 C994.6,517.4 992.4,517.6 990.7,517.4 C989.1,517.2 986.8,515.6 986.0,515.3" stroke-width="2.76"/>
<path d="M1007.5,503.0 C1006.6,503.4 1003.5,503.9 1002.5,505.1 C1001.5,506.4 1000.9,508.5 1001.2,510.3 C1001.5,512.1 1003.0,514.9 1004.5,516.0 C1006.0,517.1 1008.6,517.6 1010.1,516.8 C1011.5,516.0 1013.0,513.2 1013.4,511.3 C1013.7,509.3 1012.9,506.5 1011.9,505.1 C1011.0,503.8 1008.2,503.4 1007.5,503.0" stroke-width="2.5"/>
<path d="M1008.9,510.9 L1016.4,520.4" stroke-width="2.76"/>
<path d="M1021.6,503.3 L1018.7,516.9 L1029.6,517.5" stroke-width="2.76"/>
<path d="M998.3,557.2 C997.5,556.8 995.3,554.9 993.9,555.1 C992.5,555.4 990.6,557.2 990.0,558.7 C989.4,560.2 989.6,562.6 990.2,564.0 C990.9,565.4 992.3,566.9 993.9,567.2 C995.5,567.5 998.8,566.0 999.8,565.8" stroke-width="1.92"/>
<path d="M1002.7,561.0 L1003.3,567.7" stroke-width="1.92"/>
<path d="M1003.3,564.0 C1003.7,563.5 1004.2,561.8 1005.3,561.3 C1006.5,560.8 1009.3,561.1 1010.1,561.0" stroke-width="1.92"/>
<path d="M1012.2,565.3 C1013.3,565.1 1017.7,564.7 1018.7,564.0 C1019.6,563.3 1018.5,561.6 1017.8,561.0 C1017.1,560.5 1015.6,560.1 1014.5,560.6 C1013.5,561.0 1012.1,562.5 1011.7,563.6 C1011.3,564.8 1011.5,566.6 1012.2,567.5 C1012.8,568.4 1014.2,569.1 1015.7,568.9 C1017.2,568.8 1020.1,566.9 1021.0,566.5" stroke-width="1.92"/>
<path d="M1030.5,563.2 C1030.0,562.8 1028.6,560.9 1027.5,560.8 C1026.4,560.8 1024.4,561.8 1023.7,562.8 C1023.1,563.8 1022.9,565.7 1023.5,566.7 C1024.1,567.7 1026.1,568.8 1027.3,568.6 C1028.5,568.4 1030.0,566.2 1030.6,565.8" stroke-width="1.92"/>
<path d="M1030.8,561.6 L1031.6,568.1" stroke-width="1.92"/>
<path d="M1039.9,554.6 L1041.1,567.7" stroke-width="1.92"/>
<path d="M1034.6,559.7 L1046.4,559.3" stroke-width="1.92"/>
<path d="M1049.3,564.7 C1050.5,564.4 1055.4,563.7 1056.4,562.9 C1057.4,562.1 1056.0,560.5 1055.2,559.9 C1054.4,559.3 1052.8,558.8 1051.7,559.4 C1050.6,559.9 1049.0,561.8 1048.5,563.2 C1048.0,564.5 1048.2,566.5 1049.0,567.5 C1049.7,568.6 1051.2,569.4 1052.9,569.3 C1054.5,569.2 1057.8,567.3 1058.8,566.9" stroke-width="1.92"/>
</g>
</svg></body></html>
